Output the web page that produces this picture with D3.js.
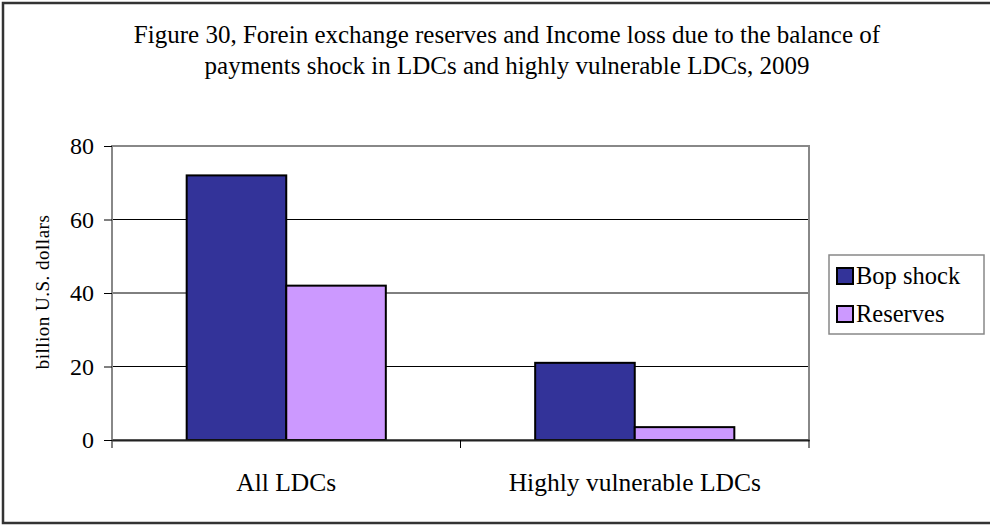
<!DOCTYPE html>
<html>
<head>
<meta charset="utf-8">
<script src="https://cdn.jsdelivr.net/npm/d3@7"></script>
<style>
  body { margin: 0; background: #fff; }
  text { font-family: "Liberation Serif", "Times New Roman", serif; fill: #000; }
</style>
</head>
<body>
<div id="chart"></div>
<script>
// data
var categories = ["All LDCs", "Highly vulnerable LDCs"];
var seriesNames = ["Bop shock", "Reserves"];
var bopShock = [72, 21];
var reserves = [42, 3.5];
var yTicks = [0, 20, 40, 60, 80];
var colors = ["#333399", "#cc99ff"];
var titleLines = [
    "Figure 30, Forein exchange reserves and Income loss due to the balance of",
    "payments shock in LDCs and highly vulnerable LDCs, 2009"
];

var svgWidth = 990;
var svgHeight = 525;
var plot = {left: 112, top: 146, right: 809, bottom: 440};

var svg = d3.select("#chart")
    .append("svg")
    .attr("width", svgWidth)
    .attr("height", svgHeight);

// outer frame
svg.append("rect")
    .attr("x", 3).attr("y", 3)
    .attr("width", 1000).attr("height", 520)
    .attr("fill", "none")
    .attr("stroke", "#333")
    .attr("stroke-width", 2.5);

// title
svg.selectAll(".title")
    .data(titleLines)
    .enter()
    .append("text")
    .attr("class", "title")
    .attr("x", 507)
    .attr("y", function(d, i) { return 43 + i * 31; })
    .attr("text-anchor", "middle")
    .attr("font-size", "25px")
    .text(function(d) { return d; });

var x0 = d3.scaleBand()
    .domain(categories)
    .range([plot.left, plot.right])
    .paddingInner(0)
    .paddingOuter(0);

var x1 = d3.scaleBand()
    .domain(seriesNames)
    .range([0, x0.bandwidth()])
    .paddingOuter(0.75)
    .paddingInner(0);

var y = d3.scaleLinear()
    .domain([0, 80])
    .range([plot.bottom, plot.top]);

// gridlines
svg.append("g")
    .selectAll("line")
    .data(yTicks.filter(function(d) { return d > 0 && d < 80; }))
    .enter()
    .append("line")
    .attr("x1", plot.left).attr("x2", plot.right)
    .attr("y1", function(d) { return y(d); })
    .attr("y2", function(d) { return y(d); })
    .attr("stroke", "#000")
    .attr("stroke-width", 1);

// plot border (gray)
svg.append("rect")
    .attr("x", plot.left).attr("y", plot.top)
    .attr("width", plot.right - plot.left)
    .attr("height", plot.bottom - plot.top)
    .attr("fill", "none")
    .attr("stroke", "#888")
    .attr("stroke-width", 2);

// bars
var rows = categories.map(function(c, i) {
    return [
        {cat: c, name: seriesNames[0], value: bopShock[i], color: colors[0]},
        {cat: c, name: seriesNames[1], value: reserves[i], color: colors[1]}
    ];
});

svg.append("g")
    .selectAll("g")
    .data(rows)
    .enter()
    .append("g")
    .attr("transform", function(d) { return "translate(" + x0(d[0].cat) + ",0)"; })
    .selectAll("rect")
    .data(function(d) { return d; })
    .enter()
    .append("rect")
    .attr("x", function(d) { return x1(d.name); })
    .attr("y", function(d) { return y(d.value); })
    .attr("width", x1.bandwidth())
    .attr("height", function(d) { return y(0) - y(d.value); })
    .attr("fill", function(d) { return d.color; })
    .attr("stroke", "#000")
    .attr("stroke-width", 2);

// y axis
var leftAxis = d3.axisLeft(y).tickValues(yTicks).tickSize(8).tickPadding(10);
var gy = svg.append("g")
    .attr("transform", "translate(" + plot.left + ",0)")
    .call(leftAxis);
gy.select(".domain").remove();
gy.selectAll("text").attr("font-size", "24px").attr("font-family", "Liberation Serif");

// x axis
var bottomAxis = d3.axisBottom(x0).tickSize(0).tickPadding(33);
var gx = svg.append("g")
    .attr("transform", "translate(0," + plot.bottom + ")")
    .call(bottomAxis);
gx.select(".domain").attr("stroke", "#222").attr("stroke-width", 2);
gx.selectAll("text").attr("font-size", "25.5px").attr("font-family", "Liberation Serif");

// category separator ticks
svg.append("g")
    .selectAll("line")
    .data([plot.left, x0(categories[1]), plot.right])
    .enter()
    .append("line")
    .attr("x1", function(d) { return d; })
    .attr("x2", function(d) { return d; })
    .attr("y1", plot.bottom)
    .attr("y2", plot.bottom + 8)
    .attr("stroke", "#000");

// y axis title
svg.append("text")
    .attr("transform", "translate(49,292) rotate(-90)")
    .attr("text-anchor", "middle")
    .attr("font-size", "19px")
    .attr("letter-spacing", "0.5px")
    .text("billion U.S. dollars");

// legend
var legend = svg.append("g").attr("transform", "translate(829,255)");
legend.append("rect")
    .attr("width", 155).attr("height", 79)
    .attr("fill", "#fff")
    .attr("stroke", "#888")
    .attr("stroke-width", 1.5);

var items = legend.selectAll(".item")
    .data(seriesNames)
    .enter()
    .append("g")
    .attr("class", "item")
    .attr("transform", function(d, i) { return "translate(8," + (13 + i * 38) + ")"; });

items.append("rect")
    .attr("width", 16).attr("height", 16)
    .attr("fill", function(d, i) { return colors[i]; })
    .attr("stroke", "#000")
    .attr("stroke-width", 2);

items.append("text")
    .attr("x", 19)
    .attr("y", 16)
    .attr("font-size", "24.5px")
    .text(function(d) { return d; });
</script>
</body>
</html>
